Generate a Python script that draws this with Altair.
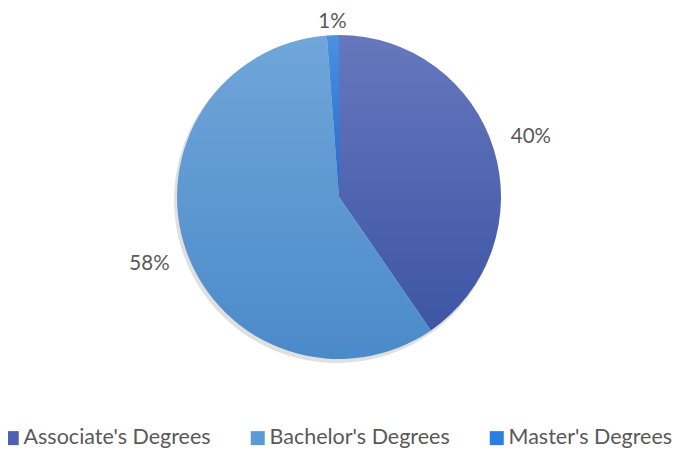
import altair as alt
import pandas as pd

categories = ["Associate's Degrees", "Bachelor's Degrees", "Master's Degrees"]
values = [40.4, 58.4, 1.2]
order = [1, 2, 3]
top_colors = ["#6677bd", "#70a6d9", "#4a90e2"]
bottom_colors = ["#3d55a5", "#4b8aca", "#1d6ccf"]
flat_colors = ["#4d63b0", "#5b9bd5", "#2e7de0"]

df = pd.DataFrame({"category": categories, "value": values, "order": order})

CX, CY, R = 331, 189, 162
FONT = "Lato"
GREY = "#595959"

base = alt.Chart(df).transform_stack(
    stack="value", groupby=[], as_=["v0", "v1"], sort=[alt.SortField("order")]
).transform_calculate(
    label="format(datum.value / 100, '.0%')"
)

theta_scale = alt.Scale(domain=[0, sum(values)])

shadow = base.mark_arc(radius=R + 1, fill="#000000", opacity=0.12).encode(
    theta=alt.Theta("v0:Q", scale=theta_scale),
    theta2="v1:Q",
    x=alt.value(CX - 2),
    y=alt.value(CY + 3),
)

slices = []
for i, cat in enumerate(categories):
    grad = alt.Gradient(
        gradient="linear",
        stops=[alt.GradientStop(color=top_colors[i], offset=0),
               alt.GradientStop(color=bottom_colors[i], offset=1)],
        x1=0, x2=0, y1=0, y2=1,
    )
    slices.append(
        base.transform_filter(alt.datum.category == cat).mark_arc(
            radius=R, fill=grad
        ).encode(
            theta=alt.Theta("v0:Q", scale=theta_scale),
            theta2="v1:Q",
            x=alt.value(CX),
            y=alt.value(CY),
        )
    )

legend_layer = base.mark_point(opacity=0, filled=True).encode(
    x=alt.value(CX),
    y=alt.value(CY),
    color=alt.Color(
        "category:N",
        scale=alt.Scale(domain=categories, range=flat_colors),
        legend=alt.Legend(
            title=None, orient="none", legendX=-7, legendY=419,
            direction="horizontal", columns=3, columnPadding=36,
            symbolType="square", symbolSize=196, symbolOpacity=1,
            symbolStrokeWidth=0, labelFontSize=21.5, labelFont=FONT,
            labelColor=GREY, labelOffset=1, labelLimit=400,
        ),
    ),
)

big_labels = base.transform_filter(alt.datum.value >= 5).mark_text(
    radius=201, font=FONT, fontSize=20.5, color=GREY
).encode(
    theta=alt.Theta("mid:Q", scale=theta_scale),
    text="label:N",
    x=alt.value(CX),
    y=alt.value(CY),
).transform_calculate(mid="(datum.v0 + datum.v1) / 2")

small_labels = base.transform_filter(alt.datum.value < 5).mark_text(
    radius=175, font=FONT, fontSize=20.5, color=GREY
).encode(
    theta=alt.Theta("mid:Q", scale=theta_scale),
    text="label:N",
    x=alt.value(CX),
    y=alt.value(CY),
).transform_calculate(mid="(datum.v0 + datum.v1) / 2")

chart = alt.layer(shadow, *slices, legend_layer, big_labels, small_labels).properties(
    width=668, height=442, autosize=alt.AutoSizeParams(type="none"), padding=0
).configure_view(stroke=None).resolve_scale(theta="shared")

chart.save("out.html", embed_options={"renderer": "svg", "actions": False})
